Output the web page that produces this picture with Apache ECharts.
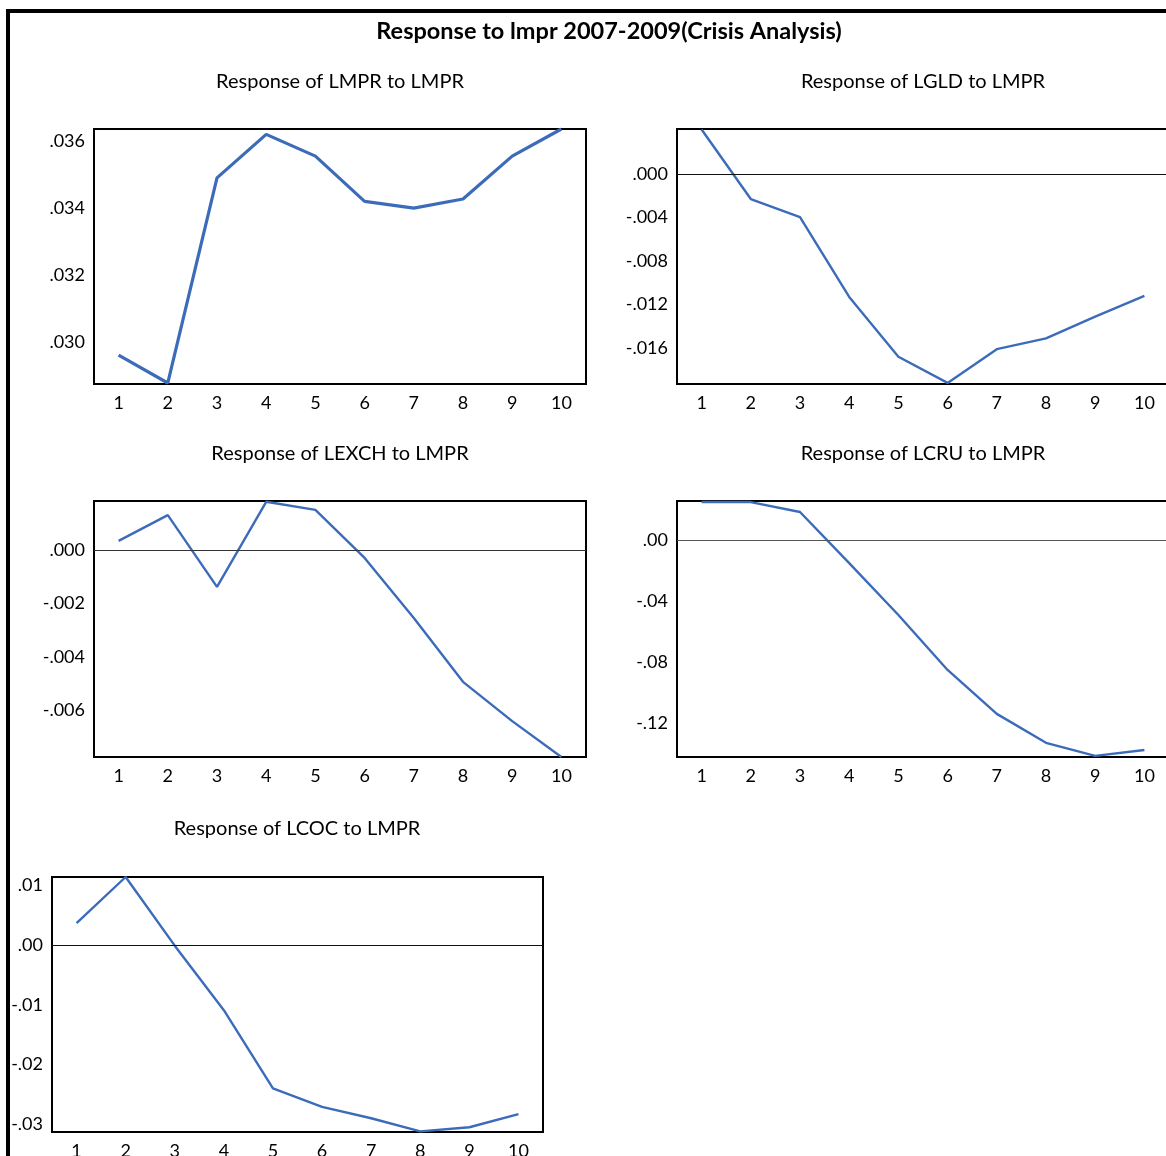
<!DOCTYPE html>
<html>
<head>
<meta charset="utf-8">
<title>Response to lmpr 2007-2009</title>
<script src="https://cdn.jsdelivr.net/npm/echarts@6/dist/echarts.min.js"></script>
<style>
html,body{margin:0;padding:0;background:#fff;overflow:hidden;}
#main{width:1190px;height:1180px;}
</style>
</head>
<body>
<div id="main"></div>
<script>
/*
 * 脉冲响应 2007-2009 危机分析
 */
var periods = ['1','2','3','4','5','6','7','8','9','10'];

// 各变量对 LMPR 冲击的响应
var lmprResp  = [0.02961, 0.02878, 0.0349, 0.0362, 0.03555, 0.0342, 0.0340, 0.03427, 0.03555, 0.03636];
var lgldResp  = [0.0041, -0.0023, -0.00395, -0.0113, -0.0168, -0.0192, -0.0161, -0.0151, -0.0131, -0.0112];
var lexchResp = [0.00034, 0.0013, -0.00138, 0.0018, 0.0015, -0.0003, -0.00254, -0.00493, -0.0064, -0.00774];
var lcruResp  = [0.0249, 0.0249, 0.0184, -0.0151, -0.0492, -0.0852, -0.114, -0.133, -0.1416, -0.1377];
var lcocResp  = [0.00368, 0.0114, -0.0001, -0.0109, -0.0240, -0.0271, -0.029, -0.0312, -0.0305, -0.0283];

// y轴刻度
var lmprTicks  = [0.030, 0.032, 0.034, 0.036];
var lgldTicks  = [-0.016, -0.012, -0.008, -0.004, 0];
var lexchTicks = [-0.006, -0.004, -0.002, 0];
var lcruTicks  = [-0.12, -0.08, -0.04, 0];
var lcocTicks  = [-0.03, -0.02, -0.01, 0, 0.01];

var FONT = 'Lato';
var LINE_COLOR = '#3c6cb9';

function fmt(digits) {
	return function(v) {
		return v.toFixed(digits).replace('0.', '.');
	};
}

// 一个小图的配置
var panels = [
	{ title:'Response of LMPR to LMPR',  data:lmprResp,  ticks:lmprTicks,  digits:3, min:0.02875, max:0.03636, zero:null, lw:3.2,
	  grid:{left:94,  top:129, width:492, height:255} },
	{ title:'Response of LGLD to LMPR',  data:lgldResp,  ticks:lgldTicks,  digits:3, min:-0.0193, max:0.00414, zero:'#111', lw:2.4,
	  grid:{left:677, top:129, width:492, height:255} },
	{ title:'Response of LEXCH to LMPR', data:lexchResp, ticks:lexchTicks, digits:3, min:-0.00774, max:0.00183, zero:'#333', lw:2.4,
	  grid:{left:94,  top:501, width:492, height:256} },
	{ title:'Response of LCRU to LMPR',  data:lcruResp,  ticks:lcruTicks,  digits:2, min:-0.1423, max:0.0256, zero:'#555', lw:2.4,
	  grid:{left:677, top:501, width:492, height:256} },
	{ title:'Response of LCOC to LMPR',  data:lcocResp,  ticks:lcocTicks,  digits:2, min:-0.0313, max:0.0114, zero:'#111', lw:2.4,
	  grid:{left:52,  top:877, width:491, height:255} }
];

var option = {
	animation:false,
	backgroundColor:'#fff',
	grid:[], xAxis:[], yAxis:[], series:[],
	graphic:[
		// 外框
		{ type:'line', shape:{x1:8, y1:9, x2:8, y2:1180}, style:{stroke:'#000', lineWidth:4}, z:100 },
		{ type:'line', shape:{x1:6, y1:11, x2:1190, y2:11}, style:{stroke:'#000', lineWidth:4}, z:100 },
		{ type:'text', x:609, y:31, style:{text:'Response to lmpr 2007-2009(Crisis Analysis)', font:'bold 23.5px ' + FONT, fill:'#000', align:'center', verticalAlign:'middle'} }
	]
};

var titlePos = [[340,82],[923,82],[340,454],[923,454],[297,829]];

panels.forEach(function(p, i) {
	option.grid.push({
		left:p.grid.left, top:p.grid.top, width:p.grid.width, height:p.grid.height,
		show:true, borderColor:'#000', borderWidth:2, backgroundColor:'transparent'
	});
	option.xAxis.push({
		type:'category', gridIndex:i, data:periods, boundaryGap:true,
		axisLine:{show:false}, axisTick:{show:false}, splitLine:{show:false},
		axisLabel:{color:'#000', fontFamily:FONT, fontSize:18, margin:10}
	});
	option.yAxis.push({
		type:'value', gridIndex:i, min:p.min, max:p.max, scale:true,
		axisLine:{show:false}, axisTick:{show:false}, splitLine:{show:false},
		axisLabel:{color:'#000', fontFamily:FONT, fontSize:18, margin:9, padding:[0,0,5,0],
			customValues:p.ticks, formatter:fmt(p.digits)}
	});
	var s = {
		type:'line', xAxisIndex:i, yAxisIndex:i, data:p.data,
		symbol:'none', smooth:false,
		lineStyle:{color:LINE_COLOR, width:p.lw}
	};
	if (p.zero) {
		s.markLine = {
			silent:true, symbol:'none', label:{show:false},
			lineStyle:{color:p.zero, width:1, type:'solid'},
			data:[{yAxis:0}]
		};
	}
	option.series.push(s);
	option.graphic.push({
		type:'text', x:titlePos[i][0], y:titlePos[i][1],
		style:{text:p.title, font:'20px ' + FONT, fill:'#000', align:'center', verticalAlign:'middle'}
	});
});

var myChart = echarts.init(document.getElementById('main'));
myChart.setOption(option);
</script>
</body>
</html>
